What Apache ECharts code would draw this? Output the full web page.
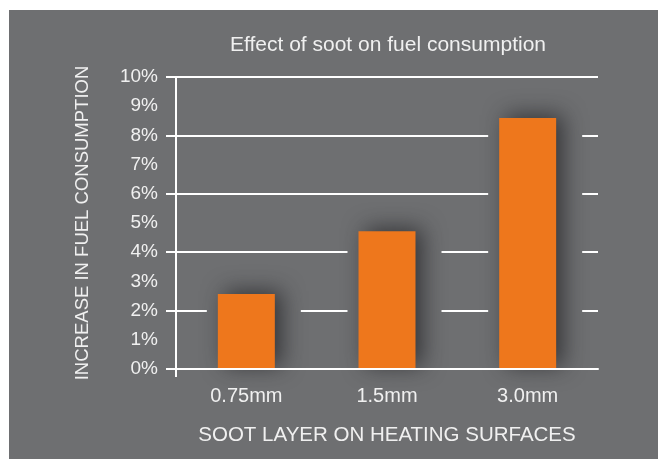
<!DOCTYPE html>
<html>
<head>
<meta charset="utf-8">
<script src="https://cdn.jsdelivr.net/npm/echarts@6/dist/echarts.min.js"></script>
<style>
  html, body { margin: 0; padding: 0; background: #ffffff; }
  #chart { position: absolute; left: 9px; top: 10px; width: 649px; height: 449px; background: #6e6f71; }
</style>
</head>
<body>
<div id="chart"></div>
<script>
// data
var categories = ['0.75mm', '1.5mm', '3.0mm'];
var increase = [2.57, 4.72, 8.6]; // % increase in fuel consumption
var yMin = 0, yMax = 10;

var bg = '#6e6f71';
var txt = '#f0f0f0';
var font = 'Liberation Sans';

var myChart = echarts.init(document.getElementById('chart'));

var option = {
  animation: false,
  title: {
    text: 'Effect of soot on fuel consumption',
    left: 374,
    top: 20,
    textAlign: 'center',
    textStyle: { color: txt, fontSize: 21, fontWeight: 'normal', fontFamily: font }
  },
  grid: [
    { left: 167, right: 60, top: 67, bottom: 90 },
    // shifted copy, used only for the mask behind each bar
    { left: 174.5, right: 52.5, top: 67, bottom: 90 }
  ],
  xAxis: [
    {
      type: 'category', gridIndex: 0, data: categories, z: 5,
      axisLine: { lineStyle: { color: '#ffffff', width: 2 } },
      axisTick: { alignWithLabel: true, length: 8, lineStyle: { color: '#ffffff', width: 2 } },
      axisLabel: { color: txt, fontSize: 20, fontFamily: font, margin: 17 },
      name: 'SOOT LAYER ON HEATING SURFACES',
      nameLocation: 'middle',
      nameGap: 56,
      nameTextStyle: { color: txt, fontSize: 20.5, fontFamily: font }
    },
    {
      type: 'category', gridIndex: 1, data: categories, show: false
    },
    {
      // small tick under the origin
      type: 'value', gridIndex: 0, min: 0, max: 1, position: 'bottom', z: 5,
      axisLine: { show: false },
      axisLabel: { show: false },
      splitLine: { show: false },
      axisTick: { show: true, customValues: [0], length: 8, lineStyle: { color: '#ffffff', width: 2 } }
    }
  ],
  yAxis: [
    {
      type: 'value', gridIndex: 0, min: yMin, max: yMax, interval: 2,
      axisLine: { show: true, lineStyle: { color: '#ffffff', width: 2 } },
      axisTick: { show: true, length: 10, lineStyle: { color: '#ffffff', width: 2 } },
      axisLabel: { show: false },
      splitLine: { show: true, lineStyle: { color: '#ffffff', width: 2 } }
    },
    {
      type: 'value', gridIndex: 0, min: yMin, max: yMax, interval: 1, position: 'left',
      axisLine: { show: false },
      axisTick: { show: false },
      splitLine: { show: false },
      axisLabel: { color: txt, fontSize: 19, fontFamily: font, margin: 18, formatter: '{value}%' },
      name: 'INCREASE IN FUEL CONSUMPTION',
      nameLocation: 'middle',
      nameRotate: 90,
      nameGap: 84,
      nameTextStyle: { color: txt, fontSize: 18.5, fontFamily: font }
    },
    {
      type: 'value', gridIndex: 1, min: yMin, max: yMax, show: false
    }
  ],
  series: [
    {
      name: 'mask',
      type: 'bar',
      xAxisIndex: 1,
      yAxisIndex: 2,
      data: increase,
      barWidth: 94,
      z: 2,
      silent: true,
      itemStyle: { color: bg }
    },
    {
      name: 'increase',
      type: 'bar',
      xAxisIndex: 0,
      yAxisIndex: 0,
      data: increase,
      barWidth: 57,
      z: 3,
      itemStyle: {
        color: '#ee771c',
        shadowBlur: 22,
        shadowColor: 'rgba(35,35,38,0.75)',
        shadowOffsetX: 7,
        shadowOffsetY: -3
      }
    }
  ]
};

myChart.setOption(option);
</script>
</body>
</html>
